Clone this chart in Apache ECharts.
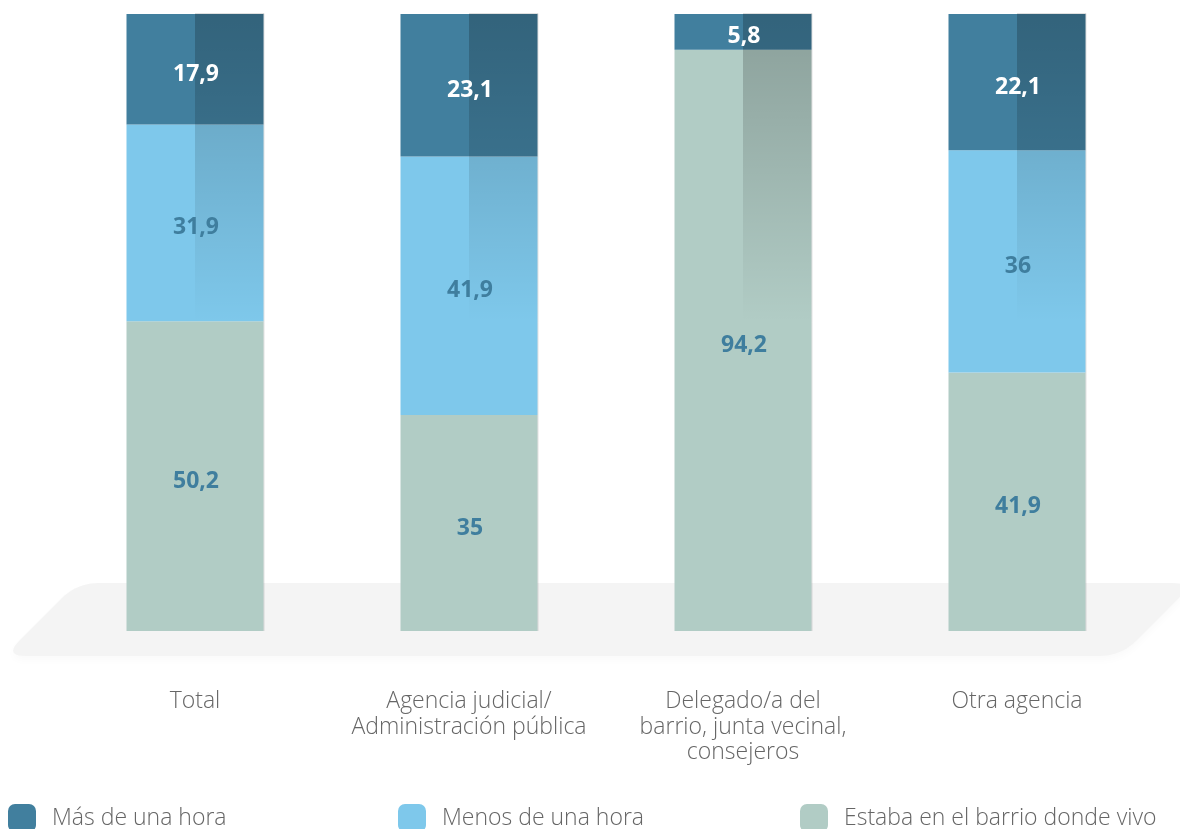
<!DOCTYPE html>
<html>
<head>
<meta charset="utf-8">
<script src="https://cdn.jsdelivr.net/npm/echarts@6/dist/echarts.min.js"></script>
<style>
  html, body { margin: 0; padding: 0; background: #ffffff; }
  #chart { width: 1180px; height: 829px; }
</style>
</head>
<body>
<div id="chart"></div>
<script>
// Categories (x axis)
const categories = [
  'Total',
  'Agencia judicial/\nAdministración pública',
  'Delegado/a del\nbarrio, junta vecinal,\nconsejeros',
  'Otra agencia'
];

// Series names
const seriesNames = ['Más de una hora', 'Menos de una hora', 'Estaba en el barrio donde vivo'];

// Series values (%), stacked bottom-up: barrio, menos, más
const masDeUnaHora = [17.9, 23.1, 5.8, 22.1];
const menosDeUnaHora = [31.9, 41.9, 0, 36];
const enElBarrio = [50.2, 35, 94.2, 41.9];

const COLORS = {
  mas: '#417f9e',
  menos: '#7ec8eb',
  barrio: '#b1ccc5'
};
const LABEL_BLUE = '#3f7e9e';
const FONT = '"Open Sans", "DejaVu Sans", sans-serif';

// Stack order from the bottom of each bar
const stackOrder = [
  { name: seriesNames[2], values: enElBarrio, color: COLORS.barrio, labelColor: LABEL_BLUE },
  { name: seriesNames[1], values: menosDeUnaHora, color: COLORS.menos, labelColor: LABEL_BLUE },
  { name: seriesNames[0], values: masDeUnaHora, color: COLORS.mas, labelColor: '#ffffff' }
];

// Segment list for value labels: [category, start, end, value, layer]
const segments = [];
categories.forEach((c, i) => {
  let base = 0;
  stackOrder.forEach((s, k) => {
    const v = s.values[i];
    if (v > 0) segments.push([i, base, base + v, v, k]);
    base += v;
  });
});

const fmt = v => String(v).replace('.', ',');

// Rounded parallelogram used as the floor behind the bars (corners sampled as curves)
function roundedPolygon(pts, r) {
  const n = pts.length;
  const out = [];
  for (let i = 0; i < n; i++) {
    const p0 = pts[(i - 1 + n) % n], p1 = pts[i], p2 = pts[(i + 1) % n];
    const l1 = Math.hypot(p0[0] - p1[0], p0[1] - p1[1]);
    const l2 = Math.hypot(p2[0] - p1[0], p2[1] - p1[1]);
    const a = [p1[0] + (p0[0] - p1[0]) * r / l1, p1[1] + (p0[1] - p1[1]) * r / l1];
    const b = [p1[0] + (p2[0] - p1[0]) * r / l2, p1[1] + (p2[1] - p1[1]) * r / l2];
    for (let t = 0; t <= 1.0001; t += 0.1) {
      const u = 1 - t;
      out.push([
        u * u * a[0] + 2 * u * t * p1[0] + t * t * b[0],
        u * u * a[1] + 2 * u * t * p1[1] + t * t * b[1]
      ]);
    }
  }
  return out;
}

const chart = echarts.init(document.getElementById('chart'), null, { renderer: 'canvas' });

const barSeries = stackOrder.map(s => ({
  name: s.name,
  type: 'bar',
  stack: 'total',
  barWidth: '50%',
  z: 2,
  itemStyle: { color: s.color },
  emphasis: { disabled: true },
  data: s.values
}));

// Right-half shading of each bar, fading from the top down
const shadeGradient = {
  type: 'linear', x: 0, y: 0, x2: 0, y2: 1,
  colorStops: [
    { offset: 0, color: 'rgba(0,0,0,0.22)' },
    { offset: 0.5, color: 'rgba(0,0,0,0)' },
    { offset: 1, color: 'rgba(0,0,0,0)' }
  ]
};

const shadeSeries = {
  type: 'custom',
  name: 'shade',
  z: 3,
  silent: true,
  data: categories.map((c, i) => [i, 0, 100]),
  renderItem: function (params, api) {
    const top = api.coord([api.value(0), api.value(2)]);
    const bottom = api.coord([api.value(0), api.value(1)]);
    const w = api.size([1, 0])[0] * 0.5;
    const x = top[0];
    const h = bottom[1] - top[1];
    return {
      type: 'group',
      children: [
        {
          type: 'rect',
          shape: { x: x, y: top[1], width: w / 2, height: h },
          style: { fill: shadeGradient }
        },
        {
          type: 'polyline',
          shape: { points: [[x, top[1] - 0.5], [x + w / 2 + 0.5, top[1] - 0.5], [x + w / 2 + 0.5, bottom[1]]] },
          style: { stroke: 'rgba(0,0,0,0.12)', lineWidth: 1, fill: null }
        }
      ]
    };
  }
};

// Value labels centred in each stacked segment
const labelSeries = {
  type: 'custom',
  name: 'labels',
  z: 4,
  silent: true,
  data: segments,
  renderItem: function (params, api) {
    const seg = segments[params.dataIndex];
    const y0 = api.coord([seg[0], seg[1]]);
    const y1 = api.coord([seg[0], seg[2]]);
    return {
      type: 'text',
      style: {
        text: fmt(seg[3]),
        x: y0[0] + 1,
        y: (y0[1] + y1[1]) / 2 + 5,
        align: 'center',
        verticalAlign: 'middle',
        fill: stackOrder[seg[4]].labelColor,
        font: 'bold 23px ' + FONT
      }
    };
  }
};

const legendBase = {
  top: 804,
  padding: 0,
  orient: 'horizontal',
  icon: 'roundRect',
  itemWidth: 28,
  itemHeight: 28,
  selectedMode: false,
  textStyle: {
    color: '#666666',
    fontSize: 23,
    fontWeight: 300,
    fontFamily: FONT,
    padding: [0, 0, 0, 11]
  }
};

const option = {
  backgroundColor: '#ffffff',
  animation: false,
  grid: { left: 58, right: 26, top: 14, bottom: 198, containLabel: false },
  xAxis: {
    type: 'category',
    data: categories,
    axisLine: { show: false },
    axisTick: { show: false },
    axisLabel: {
      margin: 58,
      color: '#666666',
      fontSize: 23,
      fontWeight: 300,
      fontFamily: FONT,
      lineHeight: 25.5,
      interval: 0
    }
  },
  yAxis: {
    type: 'value',
    min: 0,
    max: 100,
    show: false
  },
  legend: [
    Object.assign({}, legendBase, { left: 8, data: [seriesNames[0]] }),
    Object.assign({}, legendBase, { left: 398, data: [seriesNames[1]] }),
    Object.assign({}, legendBase, { left: 800, data: [seriesNames[2]] })
  ],
  graphic: [
    {
      type: 'polygon',
      z: 0,
      silent: true,
      shape: { points: roundedPolygon([[77, 583], [1194, 583], [1121, 656], [4, 656]], 22) },
      style: {
        fill: '#f4f4f4',
        shadowBlur: 8,
        shadowOffsetY: 4,
        shadowColor: 'rgba(0,0,0,0.025)'
      }
    }
  ],
  series: barSeries.concat([shadeSeries, labelSeries])
};

chart.setOption(option);
</script>
</body>
</html>
